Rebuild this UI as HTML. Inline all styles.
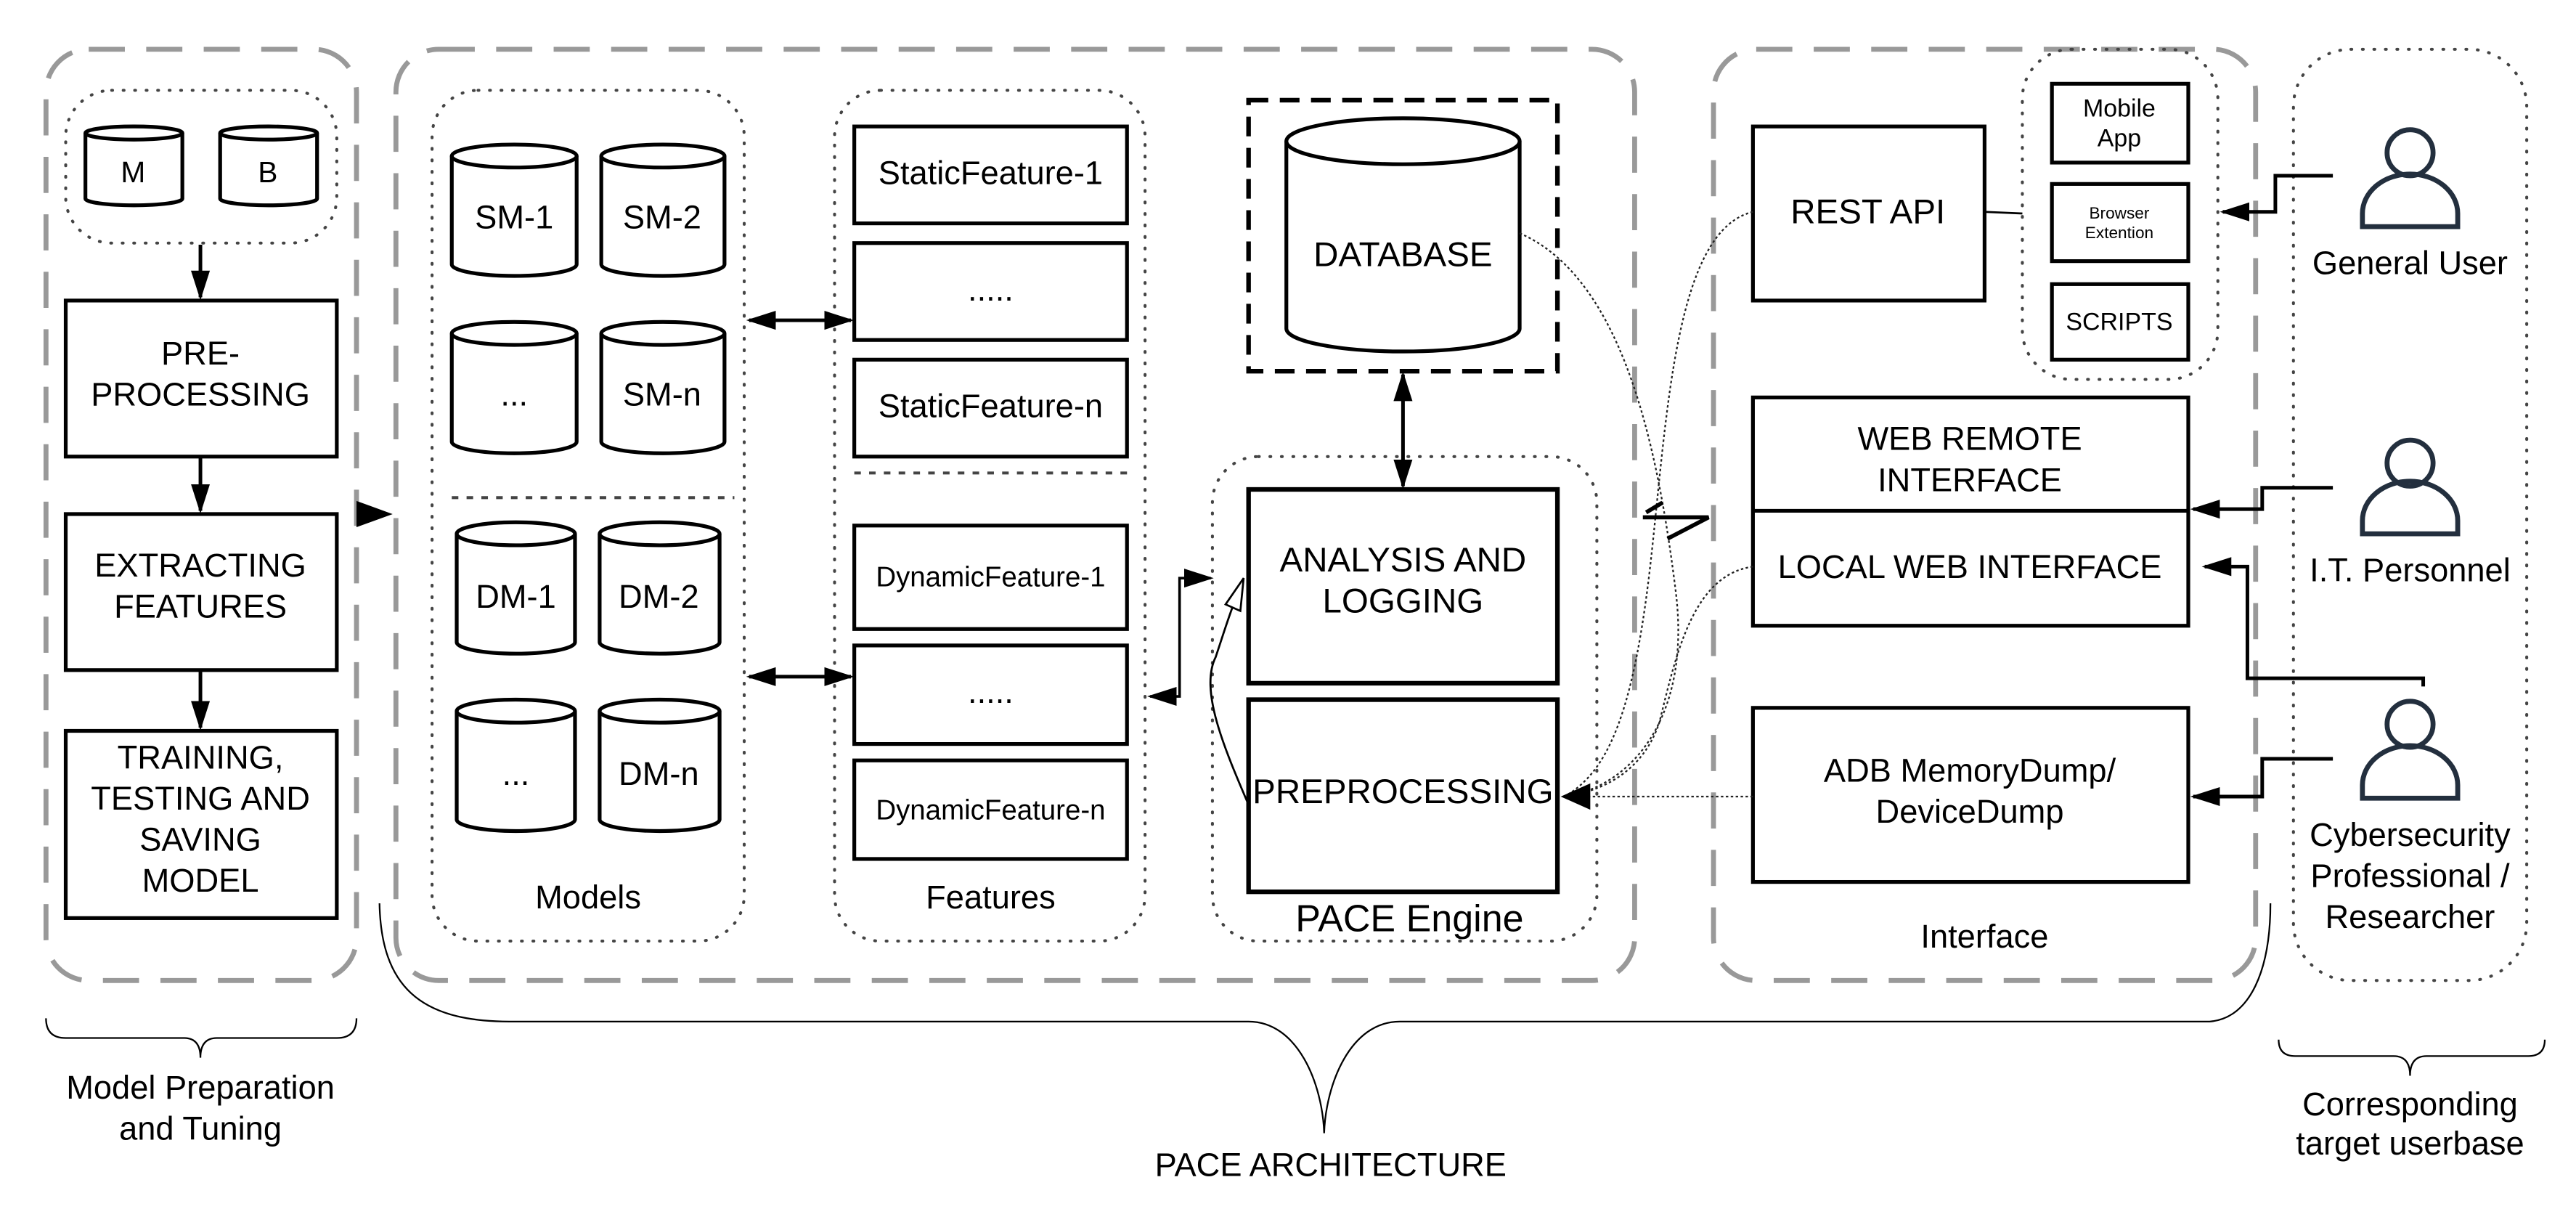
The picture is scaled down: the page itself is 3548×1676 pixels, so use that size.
<!DOCTYPE html>
<html><head><style>
html,body{margin:0;padding:0;background:#fff;}
svg{display:block;}
text{font-family:"Liberation Sans",sans-serif;fill:#000;}
</style></head><body>
<svg width="3548" height="1676" viewBox="0 0 1568 741" preserveAspectRatio="none" xmlns="http://www.w3.org/2000/svg">
<defs>
<marker id="big" viewBox="0 0 10 10" refX="9" refY="5" markerWidth="18" markerHeight="18" orient="auto-start-reverse" markerUnits="userSpaceOnUse"><path d="M0,1.8 L10,5 L0,8.2 Z" fill="#000"/></marker>
</defs>
<rect width="1568" height="741" fill="#fff"/>

<g fill="none" stroke="#999" stroke-width="3" stroke-dasharray="22 13">
<rect x="28" y="30" width="189" height="567" rx="26"/>
<rect x="241" y="30" width="754" height="567" rx="26"/>
<rect x="1043" y="30" width="330" height="567" rx="26"/>
</g>
<g fill="none" stroke="#444" stroke-width="1.8" stroke-dasharray="0.5 6.5" stroke-linecap="round">
<rect x="40" y="55" width="165" height="93" rx="28"/>
<rect x="263" y="55" width="190" height="518" rx="28"/>
<rect x="508" y="55" width="189" height="518" rx="28"/>
<rect x="738" y="278" width="234" height="295" rx="28"/>
<rect x="1231" y="30" width="119" height="201" rx="30"/>
<rect x="1396" y="30" width="142" height="567" rx="35"/>
</g>
<g stroke="#444" stroke-width="1.8" stroke-dasharray="4 5">
<line x1="275" y1="303" x2="447" y2="303"/>
<line x1="520" y1="288" x2="690" y2="288"/>
</g>

<g fill="#fff" stroke="#000" stroke-width="2.3">
<path d="M52,81 v40 a29.5,4 0 0 0 59,0 v-40"/><ellipse cx="81.5" cy="81" rx="29.5" ry="4"/>
<path d="M134,81 v40 a29.5,4 0 0 0 59,0 v-40"/><ellipse cx="163.5" cy="81" rx="29.5" ry="4"/>
<path d="M275,95 v66 a38,7 0 0 0 76,0 v-66"/><ellipse cx="313" cy="95" rx="38" ry="7"/>
<path d="M366,95 v66 a37.5,7 0 0 0 75,0 v-66"/><ellipse cx="403.5" cy="95" rx="37.5" ry="7"/>
<path d="M275,203 v66 a38,7 0 0 0 76,0 v-66"/><ellipse cx="313" cy="203" rx="38" ry="7"/>
<path d="M366,203 v66 a37.5,7 0 0 0 75,0 v-66"/><ellipse cx="403.5" cy="203" rx="37.5" ry="7"/>
<path d="M278,325 v66 a36,7 0 0 0 72,0 v-66"/><ellipse cx="314" cy="325" rx="36" ry="7"/>
<path d="M365,325 v66 a36.5,7 0 0 0 73,0 v-66"/><ellipse cx="401.5" cy="325" rx="36.5" ry="7"/>
<path d="M278,433 v66 a36,7 0 0 0 72,0 v-66"/><ellipse cx="314" cy="433" rx="36" ry="7"/>
<path d="M365,433 v66 a36.5,7 0 0 0 73,0 v-66"/><ellipse cx="401.5" cy="433" rx="36.5" ry="7"/>
<path d="M783,86 v114 a71,14 0 0 0 142,0 v-114"/><ellipse cx="854" cy="86" rx="71" ry="14"/>
</g>
<rect x="760" y="61" width="188" height="165" fill="none" stroke="#000" stroke-width="2.8" stroke-dasharray="12 7"/>

<g fill="#fff" stroke="#000" stroke-width="2.3">
<rect x="40" y="183" width="165" height="95"/>
<rect x="40" y="313" width="165" height="95"/>
<rect x="40" y="445" width="165" height="114"/>
<rect x="520" y="77" width="166" height="59"/>
<rect x="520" y="148" width="166" height="59"/>
<rect x="520" y="219" width="166" height="59"/>
<rect x="520" y="320" width="166" height="63"/>
<rect x="520" y="393" width="166" height="60"/>
<rect x="520" y="463" width="166" height="60"/>
<rect x="760" y="298" width="188" height="118" stroke-width="2.8"/>
<rect x="760" y="426" width="188" height="117" stroke-width="2.8"/>
<rect x="1067" y="77" width="141" height="106"/>
<rect x="1249" y="51" width="83" height="48"/>
<rect x="1249" y="112" width="83" height="47"/>
<rect x="1249" y="173" width="83" height="46"/>
<rect x="1067" y="242" width="265" height="139"/>
<line x1="1067" y1="311" x2="1332" y2="311"/>
<rect x="1067" y="431" width="265" height="106"/>
</g>

<g font-size="20" text-anchor="middle">
<text x="81" y="111" font-size="18">M</text>
<text x="163" y="111" font-size="18">B</text>
<text x="122" y="222">PRE-</text><text x="122" y="247">PROCESSING</text>
<text x="122" y="351">EXTRACTING</text><text x="122" y="376">FEATURES</text>
<text x="122" y="468">TRAINING,</text><text x="122" y="493">TESTING AND</text><text x="122" y="518">SAVING</text><text x="122" y="543">MODEL</text>
<text x="313" y="139">SM-1</text><text x="403" y="139">SM-2</text>
<text x="313" y="247">...</text><text x="403" y="247">SM-n</text>
<text x="314" y="370">DM-1</text><text x="401" y="370">DM-2</text>
<text x="314" y="478">...</text><text x="401" y="478">DM-n</text>
<text x="358" y="553">Models</text>
<text x="603" y="112">StaticFeature-1</text>
<text x="603" y="183">.....</text>
<text x="603" y="254">StaticFeature-n</text>
<text x="603" y="357" font-size="17">DynamicFeature-1</text>
<text x="603" y="428">.....</text>
<text x="603" y="499" font-size="17">DynamicFeature-n</text>
<text x="603" y="553">Features</text>
<text x="854" y="162" font-size="21">DATABASE</text>
<text x="854" y="348" font-size="21">ANALYSIS AND</text><text x="854" y="373" font-size="21">LOGGING</text>
<text x="854" y="489" font-size="21">PREPROCESSING</text>
<text x="858" y="567" font-size="23">PACE Engine</text>
<text x="1137" y="136" font-size="21">REST API</text>
<text x="1290" y="71" font-size="15">Mobile</text><text x="1290" y="89" font-size="15">App</text>
<text x="1290" y="133" font-size="10">Browser</text><text x="1290" y="145" font-size="10">Extention</text>
<text x="1290" y="201" font-size="15">SCRIPTS</text>
<text x="1199" y="274">WEB REMOTE</text><text x="1199" y="299">INTERFACE</text>
<text x="1199" y="352">LOCAL WEB INTERFACE</text>
<text x="1199" y="476">ADB MemoryDump/</text><text x="1199" y="501">DeviceDump</text>
<text x="1208" y="577">Interface</text>
<text x="1467" y="167">General User</text>
<text x="1467" y="354">I.T. Personnel</text>
<text x="1467" y="515">Cybersecurity</text><text x="1467" y="540">Professional /</text><text x="1467" y="565">Researcher</text>
<text x="122" y="669">Model Preparation</text><text x="122" y="694">and Tuning</text>
<text x="810" y="716">PACE ARCHITECTURE</text>
<text x="1467" y="679">Corresponding</text><text x="1467" y="703">target userbase</text>
</g>

<g fill="none" stroke="#232f3e" stroke-width="3">
<circle cx="1467" cy="93" r="14"/><path d="M1438,138 v-8 a29,24 0 0 1 58,0 v8 Z"/>
<circle cx="1467" cy="282" r="14"/><path d="M1438,325 v-8 a29,24 0 0 1 58,0 v8 Z"/>
<circle cx="1467" cy="441" r="14"/><path d="M1438,486 v-8 a29,24 0 0 1 58,0 v8 Z"/>
</g>

<g stroke="#000" stroke-width="2.2" fill="none">
<line x1="122" y1="149" x2="122" y2="181" marker-end="url(#big)"/>
<line x1="122" y1="279" x2="122" y2="311" marker-end="url(#big)"/>
<line x1="122" y1="409" x2="122" y2="443" marker-end="url(#big)"/>
<line x1="456" y1="195" x2="518" y2="195" marker-start="url(#big)" marker-end="url(#big)"/>
<line x1="456" y1="412" x2="518" y2="412" marker-start="url(#big)" marker-end="url(#big)"/>
<line x1="854" y1="228" x2="854" y2="296" marker-start="url(#big)" marker-end="url(#big)"/>
<path d="M700,424 H718 V352 H737" marker-start="url(#big)" marker-end="url(#big)" stroke-width="1.6"/>
<path d="M1420,107 H1385 V129 H1353" marker-end="url(#big)"/>
<path d="M1420,297 H1377 V310 H1335" marker-end="url(#big)"/>
<path d="M1420,462 H1377 V485 H1335" marker-end="url(#big)"/>
<path d="M1475,418 V413 H1368 V345 H1342" marker-end="url(#big)"/>
<line x1="1208" y1="129" x2="1231" y2="130" stroke-width="1.2"/>
<path d="M760,490 C745,455 730,420 740,400 C745,385 748,375 752,365" stroke-width="1.2"/>
</g>
<path d="M217,305 L239,313 L217,321 Z" fill="#000"/>
<path d="M757,352 L755,372 L746,368 Z" fill="#fff" stroke="#000" stroke-width="1.2"/>
<g fill="none" stroke="#222" stroke-width="1" stroke-dasharray="1.5 1.5">
<path d="M925,142 C990,170 1010,280 1020,360 C1030,440 990,480 952,485"/>
<path d="M1067,129 C1020,140 1015,250 1005,340 C995,430 980,470 952,485"/>
<path d="M1067,345 C1030,350 1020,400 1010,440 C1000,470 975,482 952,485"/>
<line x1="1067" y1="485" x2="960" y2="485"/>
</g>
<path d="M950,485 L968,477 L968,493 Z" fill="#000"/>
<path d="M1002,312 L1012,306 M1000,315 H1040 L1015,328" fill="none" stroke="#000" stroke-width="2.5"/>

<g fill="none" stroke="#000" stroke-width="1">
<path d="M28,620 q0,12 12,12 H112 q10,0 10,12 q0,-12 10,-12 H205 q12,0 12,-12"/>
<path d="M1387,633 q0,10 10,10 H1457 q10,0 10,12 q0,-12 10,-12 H1539 q10,0 10,-10"/>
<path d="M231,550 C232,600 255,622 310,622 H760 C790,622 805,660 806,690 C807,660 822,622 852,622 H1345 C1370,620 1382,590 1382,550"/>
</g>
</svg>
</body></html>
